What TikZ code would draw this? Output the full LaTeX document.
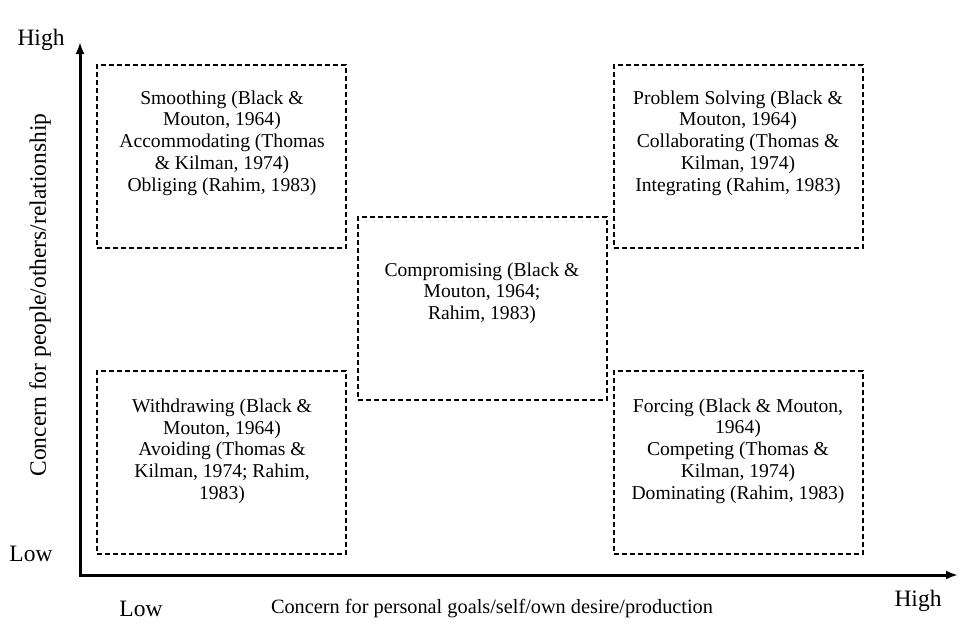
\documentclass[tikz,border=0pt]{standalone}
\usepackage{fontspec}
\setmainfont{Liberation Serif}
\usepackage{tikz}
\usetikzlibrary{arrows.meta, positioning}
\tikzset{
  quad/.style={rectangle, draw=black, dashed, dash pattern=on 5pt off 3pt,
    line width=2pt, minimum width=249pt, minimum height=183pt, inner sep=0pt},
  quadtext/.style={align=center, font=\fontsize{19.6}{21.7}\selectfont, inner sep=0pt},
  axis/.style={-{Latex[length=12pt,width=9pt]}, line width=3pt, color=black},
  axlabel/.style={font=\fontsize{20.3}{24}\selectfont, inner sep=0pt},
  endlabel/.style={font=\fontsize{23.5}{26}\selectfont, inner sep=0pt}
}
\begin{document}
\begin{tikzpicture}[x=1pt, y=-1pt]
  \useasboundingbox (0,0) rectangle (962,624);
  % axes
  \coordinate (ytop) at (80,42);
  \coordinate (xend) at (958,575);
  \draw[axis] (80,576.5) -- (ytop);
  \draw[axis] (78.5,575) -- (xend);
  \node[endlabel] (yhigh) at (41,40) {High};
  \node[endlabel] (ylow) at (31,554) {Low};
  \node[endlabel] (xlow) at (141,609) {Low};
  \node[endlabel] (xhigh) at (918,601) {High};
  \node[axlabel] (xtitle) at (492,609) {Concern for personal goals/self/own desire/production};
  \node[endlabel, rotate=90] (ytitle) at (40,295) {Concern for people/others/relationship};
  % quadrants
  \node[quad] (smooth) at (221.5,156.5) {};
  \node[quad] (solve) at (738,156.5) {};
  \node[quad] (comp) at (482,308.5) {};
  \node[quad] (withd) at (221.5,462.5) {};
  \node[quad] (force) at (738,462.5) {};
  \node[quadtext] (smoothtxt) at (222,143) {Smoothing (Black \&\\Mouton, 1964)\\Accommodating (Thomas\\\& Kilman, 1974)\\Obliging (Rahim, 1983)};
  \node[quadtext] (solvetxt) at (738,143) {Problem Solving (Black \&\\Mouton, 1964)\\Collaborating (Thomas \&\\Kilman, 1974)\\Integrating (Rahim, 1983)};
  \node[quadtext] (comptxt) at (482,293) {Compromising (Black \&\\Mouton, 1964;\\Rahim, 1983)};
  \node[quadtext] (withdtxt) at (222,451) {Withdrawing (Black \&\\Mouton, 1964)\\Avoiding (Thomas \&\\Kilman, 1974; Rahim,\\1983)};
  \node[quadtext] (forcetxt) at (738,451) {Forcing (Black \& Mouton,\\1964)\\Competing (Thomas \&\\Kilman, 1974)\\Dominating (Rahim, 1983)};
\end{tikzpicture}
\end{document}
